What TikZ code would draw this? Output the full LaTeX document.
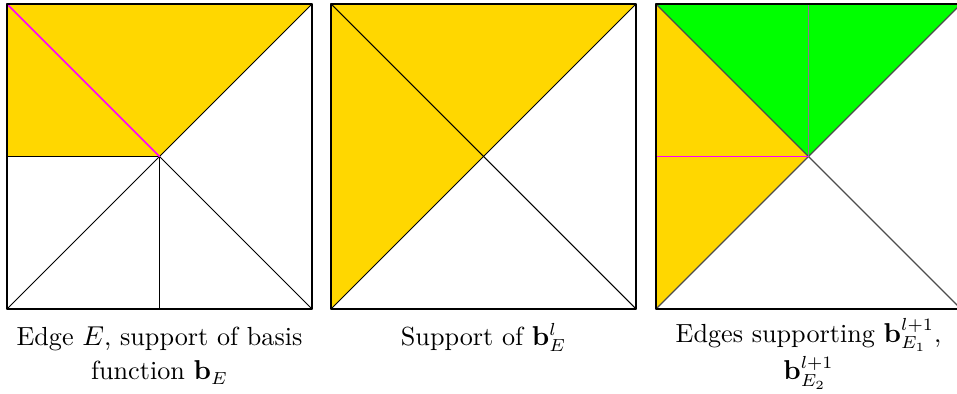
\documentclass[tikz,border=0pt]{standalone}
\usepackage{amsmath,amssymb}
\usepackage{tikz}
\usetikzlibrary{calc}

\begin{document}
\begin{tikzpicture}[line cap=round, line join=round]

% Colors
\definecolor{supp}{RGB}{255,215,0}
\definecolor{child}{RGB}{0,255,0}
\definecolor{edgepink}{RGB}{255,0,255}
\definecolor{edgegray}{RGB}{150,110,155}

\tikzset{caption/.style={anchor=base, align=center, inner sep=0pt,
    font=\fontsize{10.5pt}{13pt}\selectfont}}

\useasboundingbox (-0.099,-1.198) rectangle (13.393,4.356);

% Fine mesh, edge E
\begin{scope}
  \fill[supp] (0,2.15) -- (2.15,2.15) -- (4.3,4.3) -- (0,4.3) -- cycle;
  \draw (0,0) -- (4.3,4.3);
  \draw (2.15,2.15) -- (4.3,0);
  \draw (2.15,0) -- (2.15,2.15);
  \draw (0,2.15) -- (2.15,2.15);
  \draw[semithick, edgepink] (0,4.3) -- (2.15,2.15);
  \draw[semithick] (0,0) rectangle (4.3,4.3);
  \node[caption] (capA) at (2.15,-1.0)
    {Edge $E$, support of basis\\[1pt] function $\mathbf{b}_E$};
\end{scope}

% Coarse mesh, support
\begin{scope}[xshift=4.568cm]
  \fill[supp] (0,0) -- (2.15,2.15) -- (4.3,4.3) -- (0,4.3) -- cycle;
  \draw (0,0) -- (4.3,4.3);
  \draw (0,4.3) -- (4.3,0);
  \draw[semithick] (0,0) rectangle (4.3,4.3);
  \node[caption] (capB) at (2.15,-0.508) {Support of $\mathbf{b}^l_E$};
\end{scope}

% Coarse mesh, children
\begin{scope}[xshift=9.149cm]
  \fill[supp] (0,0) -- (2.15,2.15) -- (0,4.3) -- cycle;
  \fill[child] (0,4.3) -- (2.15,2.15) -- (4.3,4.3) -- cycle;
  \draw[black!70, line width=0.5pt] (0,0) -- (4.3,4.3);
  \draw[black!70, line width=0.5pt] (0,4.3) -- (4.3,0);
  \draw[edgepink] (0,2.15) -- (2.15,2.15);
  \draw[semithick, edgegray] (2.15,4.3) -- (2.15,2.15);
  \draw[semithick] (0,0) rectangle (4.3,4.3);
  \node[caption] (capC) at (2.15,-1.0)
    {Edges supporting $\mathbf{b}^{l+1}_{E_1}$,\\[1pt] $\mathbf{b}^{l+1}_{E_2}$};
\end{scope}

\end{tikzpicture}
\end{document}
